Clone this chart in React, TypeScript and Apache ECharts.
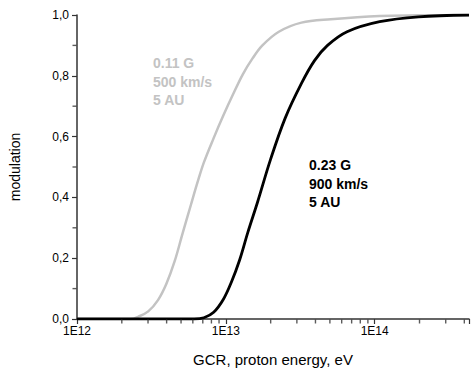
import React, { useEffect, useRef } from "react";
import * as echarts from "echarts";

// GCR proton energy (eV) and modulation
const grayEnergy = [1e12, 2.0e12, 2.29e12, 2.59e12, 3.01e12, 3.5e12, 3.98e12, 4.53e12, 5.11e12, 5.82e12, 6.41e12, 7.12e12, 8.28e12, 9.63e12, 1.12e13, 1.3e13, 1.515e13, 1.76e13, 2.27e13, 3.22e13, 5.07e13, 1.08e14, 1.97e14, 4.3e14];
const grayValue = [0, 0, 0, 0.008, 0.025, 0.062, 0.115, 0.19, 0.28, 0.375, 0.445, 0.515, 0.595, 0.67, 0.74, 0.805, 0.858, 0.9, 0.945, 0.975, 0.986, 0.997, 0.999, 1.0];

const blackEnergy = [1e12, 5.5e12, 6.12e12, 7.12e12, 8.28e12, 9.63e12, 1.087e13, 1.239e13, 1.405e13, 1.634e13, 1.997e13, 2.5e13, 3.22e13, 3.94e13, 4.82e13, 6.52e13, 1.08e14, 1.97e14, 4.3e14];
const blackValue = [0, 0, 0, 0.004, 0.022, 0.065, 0.12, 0.195, 0.285, 0.385, 0.525, 0.66, 0.775, 0.85, 0.9, 0.945, 0.978, 0.994, 1.0];

const xMin = 1e12;
const xMax = 4.3e14;
const xTickPowers = [12, 13, 14];
// minor x ticks: mantissas 2..9 of every decade shown
const minorMantissas = [2, 3, 4, 5, 6, 7, 8, 9];
const yTicks = [0, 0.2, 0.4, 0.6, 0.8, 1.0];
const yMinorTicks = [0.1, 0.3, 0.5, 0.7, 0.9];

const grayLabel = ["0.11 G", "500 km/s", "5 AU"];
const blackLabel = ["0.23 G", "900 km/s", "5 AU"];

const FONT = "'Liberation Sans', Arial, Helvetica, sans-serif";

export default function App() {
  const ref = useRef<HTMLDivElement>(null);
  useEffect(() => {
    if (!ref.current) return;
    const chart = echarts.init(ref.current, undefined, { renderer: "svg" });
    const axisColor = "#333333";
    const minorX: number[][] = [];
    xTickPowers.forEach((p) => {
      minorMantissas.forEach((m) => {
        const v = m * Math.pow(10, p);
        if (v < xMax) minorX.push([v, 0]);
      });
    });
    const minorY = yMinorTicks.map((v) => [xMin, v]);
    chart.setOption({
      animation: false,
      backgroundColor: "#ffffff",
      grid: { left: 70, right: 0, top: 15, bottom: 53, containLabel: false },
      xAxis: {
        type: "log",
        logBase: 10,
        min: xMin,
        max: xMax,
        name: "GCR, proton energy, eV",
        nameLocation: "middle",
        nameGap: 33,
        nameTextStyle: { fontFamily: FONT, fontSize: 15, color: "#000" },
        axisLine: { show: true, lineStyle: { color: axisColor, width: 1.5 } },
        axisTick: { show: true, inside: false, length: 5, lineStyle: { color: axisColor, width: 1.2 } },
        splitLine: { show: false },
        axisLabel: {
          fontFamily: FONT,
          fontSize: 12,
          color: "#000",
          margin: 6,
          alignMinLabel: "center",
          formatter: (v: number) => {
            const p = Math.round(Math.log10(v));
            return xTickPowers.indexOf(p) >= 0 ? "1E" + p : "";
          },
        },
      },
      yAxis: {
        type: "value",
        min: 0,
        max: 1,
        interval: 0.2,
        name: "modulation",
        nameLocation: "middle",
        nameGap: 55,
        nameTextStyle: { fontFamily: FONT, fontSize: 14, color: "#000" },
        axisLine: { show: true, lineStyle: { color: axisColor, width: 1.5 } },
        axisTick: { show: true, inside: false, length: 5, lineStyle: { color: axisColor, width: 1.2 } },
        splitLine: { show: false },
        axisLabel: {
          fontFamily: FONT,
          fontSize: 12,
          color: "#000",
          margin: 8,
          formatter: (v: number) =>
            yTicks.indexOf(Math.round(v * 10) / 10) >= 0 ? v.toFixed(1).replace(".", ",") : "",
        },
      },
      series: [
        {
          type: "line",
          data: grayEnergy.map((e, i) => [e, grayValue[i]]),
          smooth: 0.35,
          showSymbol: false,
          lineStyle: { color: "#c3c3c3", width: 2.5 },
        },
        {
          type: "line",
          data: blackEnergy.map((e, i) => [e, blackValue[i]]),
          smooth: 0.35,
          showSymbol: false,
          lineStyle: { color: "#000000", width: 2.8 },
        },
        {
          type: "scatter",
          data: minorX,
          clip: false,
          silent: true,
          z: 5,
          symbol: "rect",
          symbolSize: [1.4, 4],
          symbolOffset: [0, 2.5],
          itemStyle: { color: axisColor },
        },
        {
          type: "scatter",
          data: minorY,
          clip: false,
          silent: true,
          z: 5,
          symbol: "rect",
          symbolSize: [4, 1.4],
          symbolOffset: [-2.5, 0],
          itemStyle: { color: axisColor },
        },
      ],
      graphic: [
        {
          type: "text",
          left: 153,
          top: 54,
          style: {
            text: grayLabel.join("\n"),
            fill: "#c3c3c3",
            font: `bold 14px ${FONT}`,
            lineHeight: 18.5,
          },
        },
        {
          type: "text",
          left: 309,
          top: 156,
          style: {
            text: blackLabel.join("\n"),
            fill: "#000000",
            font: `bold 14px ${FONT}`,
            lineHeight: 18.5,
          },
        },
      ],
    });
    return () => chart.dispose();
  }, []);
  return (
    <div
      ref={ref}
      style={{ position: "fixed", left: 0, top: 0, width: 472, height: 372, background: "#fff" }}
    />
  );
}
